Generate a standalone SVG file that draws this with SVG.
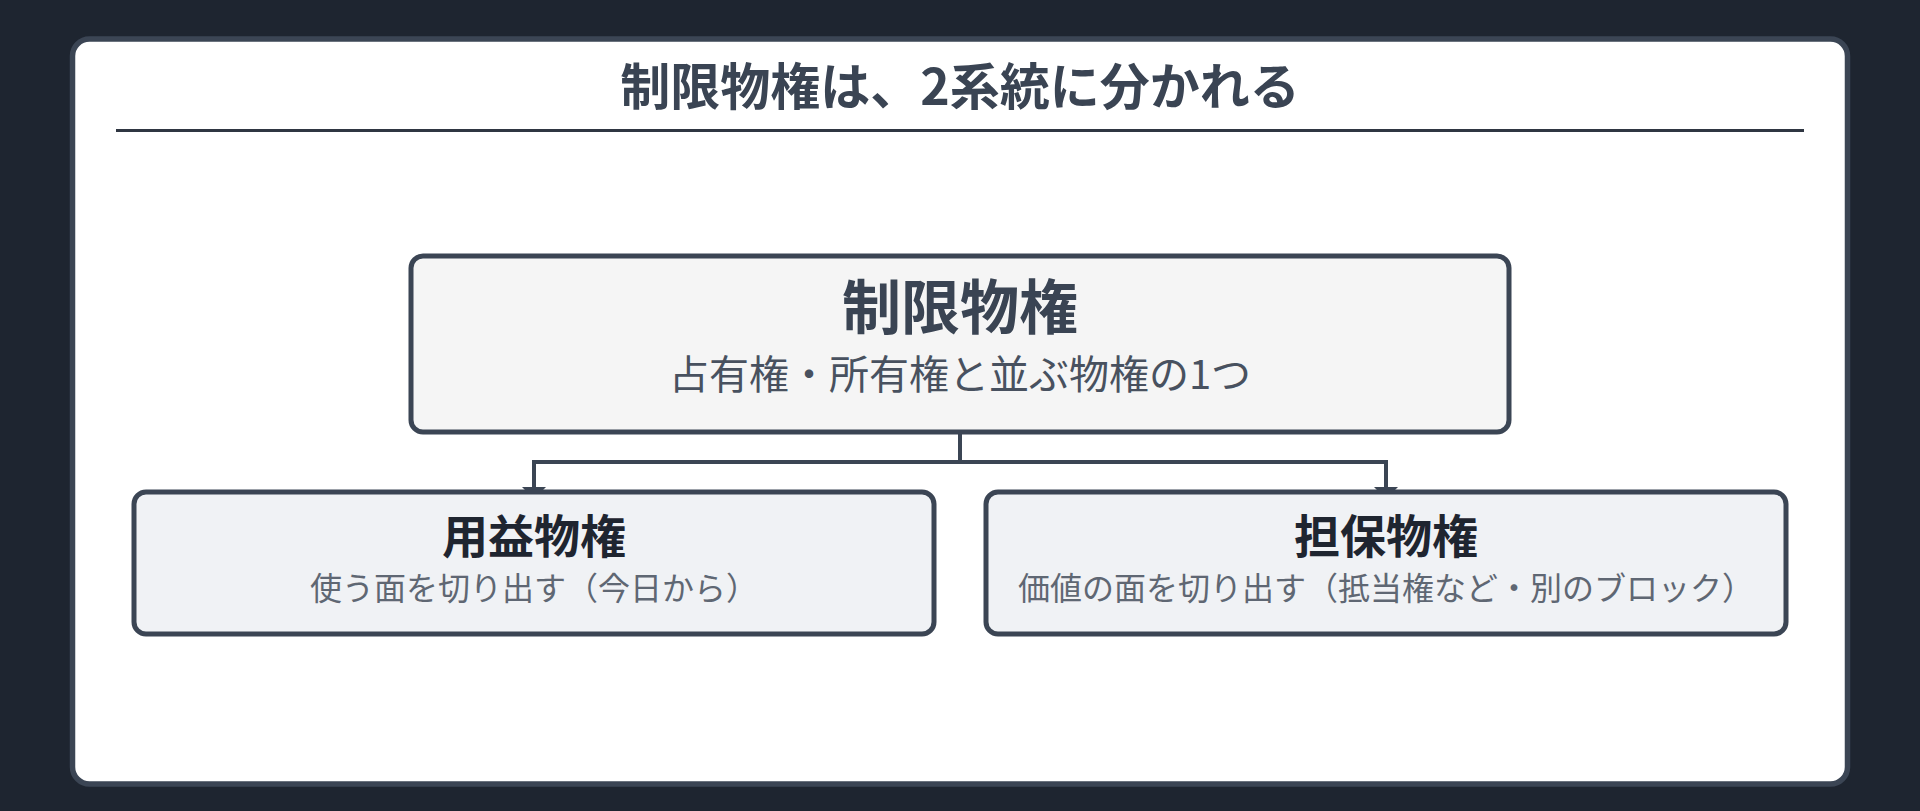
<svg xmlns="http://www.w3.org/2000/svg" width="1920" height="811" viewBox="0 0 1920 811">
  <defs>
    <style>
      .jp { font-family: "Noto Sans CJK JP", "Noto Sans CJK SC", sans-serif; }
      .title { font-size: 50px; font-weight: 700; fill: #3a4453; }
      .box { stroke: #3b4554; stroke-width: 5; }
      .main-box { fill: #f5f5f5; }
      .child-box { fill: #f0f2f5; }
      .main-label { font-size: 59px; font-weight: 700; fill: #3a4453; }
      .main-sub { font-size: 40px; font-weight: 400; fill: #48515f; }
      .child-label { font-size: 46px; font-weight: 700; fill: #1f2530; }
      .child-sub { font-size: 32px; font-weight: 400; fill: #5f6773; }
      .conn { fill: none; stroke: #3b4554; stroke-width: 4; }
    </style>
    <marker id="arrow" markerUnits="userSpaceOnUse" viewBox="0 0 12 24" markerWidth="12" markerHeight="24" refX="12" refY="12" orient="auto">
      <path d="M0,0 L12,12 L0,24 z" fill="#3b4554"/>
    </marker>
  </defs>
  <rect x="0" y="0" width="1920" height="811" fill="#1e2530"/>
  <g id="card">
    <rect x="72.5" y="39" width="1775" height="745" rx="17" ry="17" fill="#ffffff" stroke="#3b4554" stroke-width="5.5"/>
    <text class="jp title" x="960" y="105" text-anchor="middle">制限物権は、2系統に分かれる</text>
    <line x1="116" y1="130.5" x2="1804" y2="130.5" stroke="#2f3642" stroke-width="3"/>
  </g>
  <g id="connectors">
    <path class="conn" d="M960,432 V462 H534 V499" marker-end="url(#arrow)"/>
    <path class="conn" d="M960,462 H1386 V499" marker-end="url(#arrow)"/>
  </g>
  <g id="node-seigen">
    <rect class="box main-box" x="411" y="256" width="1098" height="176" rx="12" ry="12"/>
    <text class="jp main-label" x="960" y="329" text-anchor="middle">制限物権</text>
    <text class="jp main-sub" x="960" y="389" text-anchor="middle">占有権・所有権と並ぶ物権の1つ</text>
  </g>
  <g id="node-yoeki">
    <rect class="box child-box" x="134" y="492" width="800" height="142" rx="12" ry="12"/>
    <text class="jp child-label" x="534" y="553" text-anchor="middle">用益物権</text>
    <text class="jp child-sub" x="534" y="600" text-anchor="middle">使う面を切り出す（今日から）</text>
  </g>
  <g id="node-tanpo">
    <rect class="box child-box" x="986" y="492" width="800" height="142" rx="12" ry="12"/>
    <text class="jp child-label" x="1386" y="553" text-anchor="middle">担保物権</text>
    <text class="jp child-sub" x="1386" y="600" text-anchor="middle">価値の面を切り出す（抵当権など・別のブロック）</text>
  </g>
</svg>
